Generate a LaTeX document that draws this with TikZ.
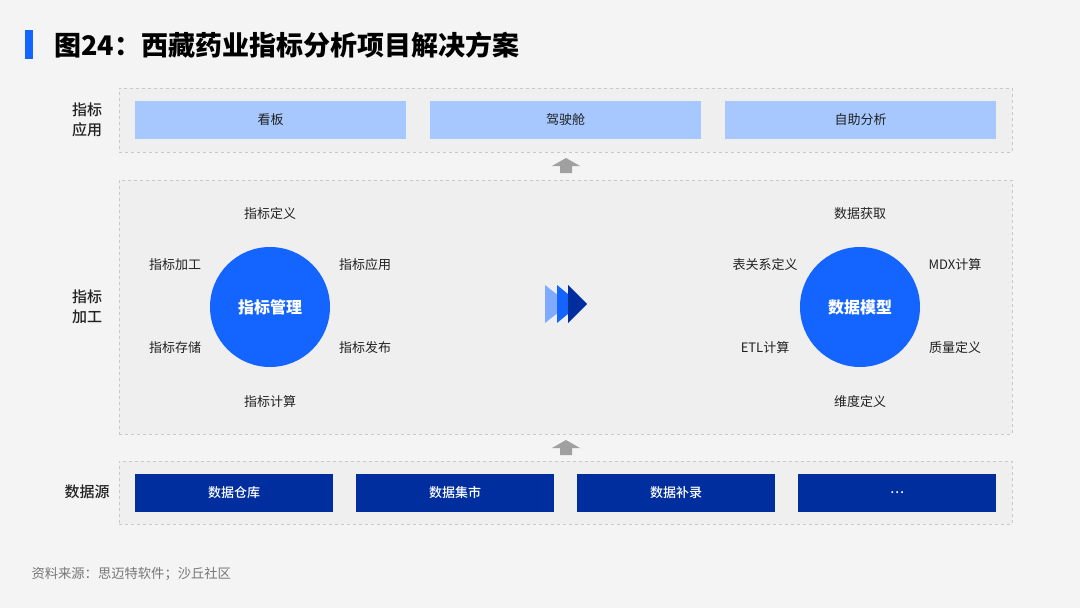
\documentclass[tikz,border=0pt]{standalone}
\usepackage{fontspec}
\setmainfont{Noto Sans CJK SC}
\newfontfamily\medfont{Noto Sans CJK SC Medium}
\usetikzlibrary{calc,positioning}
\definecolor{bg}{HTML}{F4F4F4}
\definecolor{panelbg}{HTML}{EFEFEF}
\definecolor{frame}{HTML}{C8C8C8}
\definecolor{accent}{HTML}{1464FF}
\definecolor{light}{HTML}{A6C8FF}
\definecolor{pale}{HTML}{7FAAFF}
\definecolor{deep}{HTML}{002E9E}
\definecolor{ink}{HTML}{222222}
\definecolor{muted}{HTML}{777777}
\definecolor{arrowgray}{HTML}{A0A0A0}
\tikzset{
  panel/.style={draw=frame, dashed, line width=0.8pt, fill=panelbg, anchor=north west, inner sep=0pt},
  appbox/.style={fill=light, draw=none, minimum width=271pt, minimum height=38pt, inner sep=0pt,
    text=ink, font=\fontsize{13}{15}\selectfont},
  srcbox/.style={fill=deep, draw=none, minimum width=198pt, minimum height=38pt, inner sep=0pt,
    text=white, font=\fontsize{13}{15}\selectfont\medfont},
  side/.style={text=ink, font=\fontsize{15}{20}\selectfont\medfont, align=center},
  hub/.style={circle, fill=accent, minimum size=120pt, inner sep=0pt,
    text=white, font=\fontsize{16}{19}\selectfont\bfseries},
  item/.style={text=ink, font=\fontsize{13}{15}\selectfont},
  uparrow/.style={fill=arrowgray, draw=none},
}
\begin{document}
\begin{tikzpicture}[x=1pt, y=-1pt]
  \fill[bg] (0,0) rectangle (1080,608);
  \useasboundingbox (0,0) rectangle (1080,608);

  % title
  \fill[accent] (25,30) rectangle (33,59);
  \node[anchor=west, text=black, font=\fontsize{27}{31}\selectfont\bfseries] (title) at (51,45)
    {图24：西藏药业指标分析项目解决方案};

  % panels
  \node[panel, minimum width=893pt, minimum height=64pt] (appl) at (119,88) {};
  \node[panel, minimum width=893pt, minimum height=254pt] (proc) at (119,180) {};
  \node[panel, minimum width=893pt, minimum height=63pt] (data) at (119,461) {};

  \node[side] (applside) at (87,120) {指标\\应用};
  \node[side] (procside) at (87,307) {指标\\加工};
  \node[side] (dataside) at (87,492) {数据源};

  % application layer
  \node[appbox] (board) at (270.5,120) {看板};
  \node[appbox] (cockpit) at (565.5,120) {驾驶舱};
  \node[appbox] (self) at (860.5,120) {自助分析};

  % source layer
  \node[srcbox] (dw) at (234,493) {数据仓库};
  \node[srcbox] (mart) at (455,493) {数据集市};
  \node[srcbox] (fill) at (676,493) {数据补录};
  \node[srcbox] (more) at (897,493) {…};

  % arrows between layers
  \foreach \ya in {158,440}{
    \fill[uparrow] (566,\ya) -- (580,\ya+8) -- (572,\ya+8) -- (572,\ya+15)
      -- (560,\ya+15) -- (560,\ya+8) -- (552,\ya+8) -- cycle;
  }

  % indicator management
  \node[hub] (mgmt) at (270,307) {指标管理};
  \node[item] (m1) at (270,214) {指标定义};
  \node[item] (m2) at (365,265) {指标应用};
  \node[item] (m3) at (365,348) {指标发布};
  \node[item] (m4) at (270,402) {指标计算};
  \node[item] (m5) at (175,348) {指标存储};
  \node[item] (m6) at (175,265) {指标加工};

  % data model
  \node[hub] (model) at (860,307) {数据模型};
  \node[item] (d1) at (860,214) {数据获取};
  \node[item] (d2) at (955,265) {MDX计算};
  \node[item] (d3) at (955,348) {质量定义};
  \node[item] (d4) at (860,402) {维度定义};
  \node[item] (d5) at (765,348) {ETL计算};
  \node[item] (d6) at (765,265) {表关系定义};

  % chevrons
  \fill[pale] (545,285) -- (569,304) -- (545,323) -- cycle;
  \fill[accent] (557,285) -- (580,304) -- (557,323) -- cycle;
  \fill[deep] (568,285) -- (587,304) -- (568,323) -- cycle;

  % source note
  \node[anchor=west, text=muted, font=\fontsize{13.3}{15}\selectfont] (note) at (28,574)
    {资料来源：思迈特软件；沙丘社区};
\end{tikzpicture}
\end{document}
